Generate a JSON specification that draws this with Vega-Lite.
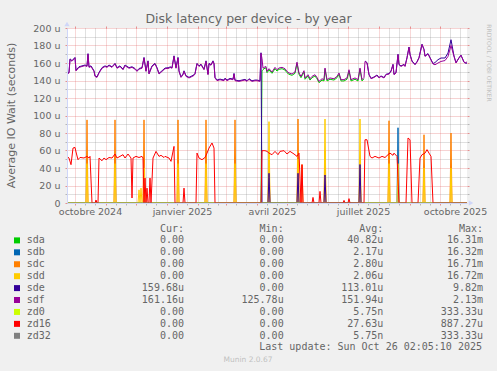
{
"$schema": "https://vega.github.io/schema/vega-lite/v6.json",
"width": 400, "height": 175,
"autosize": {"type": "none"},
"padding": {"left": 67, "top": 28, "right": 30, "bottom": 168},
"background": "#F0F0F0",
"config": {"view": {"stroke": null, "fill": "#FFFFFF"}},
"title": {"text": "Disk latency per device - by year", "font": "DejaVu Sans", "fontSize": 12.5, "fontWeight": "normal", "color": "#666666", "anchor": "middle", "frame": "group", "dx": -18.5, "offset": -4},
"datasets": {
"sda": [
{"t":"2024-09-23","s":"sda","v":0},{"t":"2025-04-05","s":"sda","v":0},{"t":"2025-04-06","s":"sda","v":151},
{"t":"2025-04-07","s":"sda","v":152.5},{"t":"2025-04-08","s":"sda","v":153.5},{"t":"2025-04-10","s":"sda","v":154.5},{"t":"2025-04-11","s":"sda","v":148.9},{"t":"2025-04-13","s":"sda","v":152},{"t":"2025-04-16","s":"sda","v":148.2},{"t":"2025-04-19","s":"sda","v":153.5},{"t":"2025-04-21","s":"sda","v":150.8},{"t":"2025-04-23","s":"sda","v":152.8},{"t":"2025-04-26","s":"sda","v":153.5},{"t":"2025-04-29","s":"sda","v":152},
{"t":"2025-05-01","s":"sda","v":148.9},{"t":"2025-05-03","s":"sda","v":147.1},{"t":"2025-05-06","s":"sda","v":145.9},{"t":"2025-05-09","s":"sda","v":148.2},{"t":"2025-05-11","s":"sda","v":159.5},{"t":"2025-05-13","s":"sda","v":147.1},{"t":"2025-05-15","s":"sda","v":143.2},{"t":"2025-05-18","s":"sda","v":149.7},{"t":"2025-05-19","s":"sda","v":141.4},{"t":"2025-05-22","s":"sda","v":145.1},{"t":"2025-05-24","s":"sda","v":140.5},{"t":"2025-05-26","s":"sda","v":143.2},{"t":"2025-05-29","s":"sda","v":145.1},{"t":"2025-05-31","s":"sda","v":142},
{"t":"2025-06-02","s":"sda","v":137.5},{"t":"2025-06-05","s":"sda","v":140.5},{"t":"2025-06-07","s":"sda","v":139.5},{"t":"2025-06-08","s":"sda","v":152.8},{"t":"2025-06-10","s":"sda","v":139.5},{"t":"2025-06-13","s":"sda","v":141.4},{"t":"2025-06-17","s":"sda","v":140.5},{"t":"2025-06-20","s":"sda","v":143.2},{"t":"2025-06-22","s":"sda","v":147.1},{"t":"2025-06-24","s":"sda","v":139.5},{"t":"2025-06-27","s":"sda","v":139.5},{"t":"2025-06-30","s":"sda","v":141.4},
{"t":"2025-07-02","s":"sda","v":150.8},{"t":"2025-07-04","s":"sda","v":139.5},{"t":"2025-07-08","s":"sda","v":141.4},{"t":"2025-07-11","s":"sda","v":139.5},{"t":"2025-07-13","s":"sda","v":152.8},{"t":"2025-07-15","s":"sda","v":139.5},{"t":"2025-07-17","s":"sda","v":142}
],
"sdb": [
{"t":"2024-09-23","s":"sdb","v":0},{"t":"2025-08-19","s":"sdb","v":0},{"t":"2025-08-20","s":"sdb","v":86},{"t":"2025-08-21","s":"sdb","v":0},{"t":"2025-10-28","s":"sdb","v":0}
],
"sdc": [
{"t":"2024-09-23","s":"sdc","v":0},
{"t":"2024-10-12","s":"sdc","v":0},{"t":"2024-10-13","s":"sdc","v":95},{"t":"2024-10-14","s":"sdc","v":0},
{"t":"2024-11-09","s":"sdc","v":0},{"t":"2024-11-10","s":"sdc","v":95},{"t":"2024-11-11","s":"sdc","v":0},
{"t":"2024-12-08","s":"sdc","v":0},{"t":"2024-12-09","s":"sdc","v":95},{"t":"2024-12-10","s":"sdc","v":0},
{"t":"2025-01-11","s":"sdc","v":0},{"t":"2025-01-12","s":"sdc","v":95},{"t":"2025-01-13","s":"sdc","v":0},
{"t":"2025-02-08","s":"sdc","v":0},{"t":"2025-02-09","s":"sdc","v":95},{"t":"2025-02-10","s":"sdc","v":0},
{"t":"2025-03-09","s":"sdc","v":0},{"t":"2025-03-10","s":"sdc","v":95},{"t":"2025-03-11","s":"sdc","v":0},
{"t":"2025-04-12","s":"sdc","v":0},{"t":"2025-04-13","s":"sdc","v":50},{"t":"2025-04-14","s":"sdc","v":0},
{"t":"2025-05-11","s":"sdc","v":0},{"t":"2025-05-12","s":"sdc","v":96},{"t":"2025-05-13","s":"sdc","v":0},
{"t":"2025-05-15","s":"sdc","v":0},{"t":"2025-05-16","s":"sdc","v":44},{"t":"2025-05-17","s":"sdc","v":0},
{"t":"2025-06-07","s":"sdc","v":0},{"t":"2025-06-08","s":"sdc","v":60},{"t":"2025-06-09","s":"sdc","v":0},
{"t":"2025-07-12","s":"sdc","v":0},{"t":"2025-07-13","s":"sdc","v":40},{"t":"2025-07-14","s":"sdc","v":0},
{"t":"2025-08-10","s":"sdc","v":0},{"t":"2025-08-11","s":"sdc","v":94},{"t":"2025-08-12","s":"sdc","v":0},
{"t":"2025-09-14","s":"sdc","v":0},{"t":"2025-09-15","s":"sdc","v":78},{"t":"2025-09-16","s":"sdc","v":0},
{"t":"2025-10-11","s":"sdc","v":0},{"t":"2025-10-12","s":"sdc","v":80},{"t":"2025-10-13","s":"sdc","v":0},
{"t":"2025-10-28","s":"sdc","v":0}
],
"sdd": [
{"t":"2024-09-23","s":"sdd","v":0},
{"t":"2024-10-12","s":"sdd","v":0},{"t":"2024-10-13","s":"sdd","v":45},{"t":"2024-10-14","s":"sdd","v":0},
{"t":"2024-11-09","s":"sdd","v":0},{"t":"2024-11-10","s":"sdd","v":45},{"t":"2024-11-11","s":"sdd","v":0},
{"t":"2024-12-03","s":"sdd","v":0},{"t":"2024-12-04","s":"sdd","v":15},{"t":"2024-12-05","s":"sdd","v":0},{"t":"2024-12-06","s":"sdd","v":17},{"t":"2024-12-07","s":"sdd","v":0},
{"t":"2024-12-08","s":"sdd","v":0},{"t":"2024-12-09","s":"sdd","v":40},{"t":"2024-12-10","s":"sdd","v":0},
{"t":"2025-01-11","s":"sdd","v":0},{"t":"2025-01-12","s":"sdd","v":45},{"t":"2025-01-13","s":"sdd","v":0},
{"t":"2025-02-08","s":"sdd","v":0},{"t":"2025-02-09","s":"sdd","v":45},{"t":"2025-02-10","s":"sdd","v":0},
{"t":"2025-03-09","s":"sdd","v":0},{"t":"2025-03-10","s":"sdd","v":45},{"t":"2025-03-11","s":"sdd","v":0},
{"t":"2025-04-12","s":"sdd","v":0},{"t":"2025-04-13","s":"sdd","v":93},{"t":"2025-04-14","s":"sdd","v":0},
{"t":"2025-05-11","s":"sdd","v":0},{"t":"2025-05-12","s":"sdd","v":50},{"t":"2025-05-13","s":"sdd","v":0},
{"t":"2025-06-07","s":"sdd","v":0},{"t":"2025-06-08","s":"sdd","v":96},{"t":"2025-06-09","s":"sdd","v":0},
{"t":"2025-07-12","s":"sdd","v":0},{"t":"2025-07-13","s":"sdd","v":96},{"t":"2025-07-14","s":"sdd","v":0},
{"t":"2025-08-10","s":"sdd","v":0},{"t":"2025-08-11","s":"sdd","v":45},{"t":"2025-08-12","s":"sdd","v":0},
{"t":"2025-08-19","s":"sdd","v":0},{"t":"2025-08-20","s":"sdd","v":45},{"t":"2025-08-21","s":"sdd","v":0},
{"t":"2025-09-14","s":"sdd","v":0},{"t":"2025-09-15","s":"sdd","v":40},{"t":"2025-09-16","s":"sdd","v":0},
{"t":"2025-10-11","s":"sdd","v":0},{"t":"2025-10-12","s":"sdd","v":40},{"t":"2025-10-13","s":"sdd","v":0},
{"t":"2025-10-28","s":"sdd","v":0}
],
"sde": [
{"t":"2024-09-23","s":"sde","g":"a","v":148.2},{"t":"2024-09-25","s":"sde","g":"a","v":149.2},{"t":"2024-09-26","s":"sde","g":"a","v":164.7},{"t":"2024-09-28","s":"sde","g":"a","v":162.7},{"t":"2024-10-01","s":"sde","g":"a","v":166.4},{"t":"2024-10-02","s":"sde","g":"a","v":151.7},{"t":"2024-10-05","s":"sde","g":"a","v":155.7},{"t":"2024-10-08","s":"sde","g":"a","v":156.7},{"t":"2024-10-11","s":"sde","g":"a","v":157.7},{"t":"2024-10-13","s":"sde","g":"a","v":156.7},{"t":"2024-10-14","s":"sde","g":"a","v":170.7},{"t":"2024-10-15","s":"sde","g":"a","v":155.7},{"t":"2024-10-17","s":"sde","g":"a","v":156.7},{"t":"2024-10-20","s":"sde","g":"a","v":151.1},{"t":"2024-10-21","s":"sde","g":"a","v":145.4},{"t":"2024-10-23","s":"sde","g":"a","v":144.2},{"t":"2024-10-25","s":"sde","g":"a","v":149.2},{"t":"2024-10-28","s":"sde","g":"a","v":154.7},{"t":"2024-10-31","s":"sde","g":"a","v":156.7},
{"t":"2024-11-02","s":"sde","g":"a","v":155.7},{"t":"2024-11-04","s":"sde","g":"a","v":157.7},{"t":"2024-11-07","s":"sde","g":"a","v":155.7},{"t":"2024-11-10","s":"sde","g":"a","v":159.6},{"t":"2024-11-12","s":"sde","g":"a","v":154.7},{"t":"2024-11-15","s":"sde","g":"a","v":156.7},{"t":"2024-11-18","s":"sde","g":"a","v":153},{"t":"2024-11-20","s":"sde","g":"a","v":157.7},{"t":"2024-11-24","s":"sde","g":"a","v":154.7},{"t":"2024-11-27","s":"sde","g":"a","v":155.7},{"t":"2024-11-30","s":"sde","g":"a","v":153.7},
{"t":"2024-12-02","s":"sde","g":"a","v":151.1},{"t":"2024-12-04","s":"sde","g":"a","v":153.7},{"t":"2024-12-07","s":"sde","g":"a","v":154.7},{"t":"2024-12-09","s":"sde","g":"a","v":166.4},{"t":"2024-12-11","s":"sde","g":"a","v":151.1},{"t":"2024-12-13","s":"sde","g":"a","v":162.5},{"t":"2024-12-14","s":"sde","g":"a","v":148.1},{"t":"2024-12-17","s":"sde","g":"a","v":156.7},{"t":"2024-12-20","s":"sde","g":"a","v":159.6},{"t":"2024-12-22","s":"sde","g":"a","v":154.7},{"t":"2024-12-24","s":"sde","g":"a","v":148.1},{"t":"2024-12-27","s":"sde","g":"a","v":151.1},{"t":"2024-12-30","s":"sde","g":"a","v":154.2},
{"t":"2025-01-03","s":"sde","g":"a","v":154.7},{"t":"2025-01-04","s":"sde","g":"a","v":155.7},{"t":"2025-01-06","s":"sde","g":"a","v":154.7},{"t":"2025-01-08","s":"sde","g":"a","v":168.2},{"t":"2025-01-10","s":"sde","g":"a","v":154.7},{"t":"2025-01-12","s":"sde","g":"a","v":166.4},{"t":"2025-01-13","s":"sde","g":"a","v":151.1},{"t":"2025-01-15","s":"sde","g":"a","v":144.2},{"t":"2025-01-17","s":"sde","g":"a","v":147.3},{"t":"2025-01-18","s":"sde","g":"a","v":151.1},{"t":"2025-01-20","s":"sde","g":"a","v":145.4},{"t":"2025-01-23","s":"sde","g":"a","v":143.6},{"t":"2025-01-25","s":"sde","g":"a","v":144.7},{"t":"2025-01-28","s":"sde","g":"a","v":146.5},{"t":"2025-01-29","s":"sde","g":"a","v":148.1},{"t":"2025-01-31","s":"sde","g":"a","v":159.6},
{"t":"2025-02-02","s":"sde","g":"a","v":156.7},{"t":"2025-02-04","s":"sde","g":"a","v":158.7},{"t":"2025-02-07","s":"sde","g":"a","v":153},{"t":"2025-02-09","s":"sde","g":"a","v":162.5},{"t":"2025-02-11","s":"sde","g":"a","v":147.3},{"t":"2025-02-12","s":"sde","g":"a","v":159.6},{"t":"2025-02-14","s":"sde","g":"a","v":158.1},{"t":"2025-02-16","s":"sde","g":"a","v":162.5},{"t":"2025-02-17","s":"sde","g":"a","v":159.6},{"t":"2025-02-18","s":"sde","g":"a","v":143.6},{"t":"2025-02-20","s":"sde","g":"a","v":140.5},{"t":"2025-02-23","s":"sde","g":"a","v":141.6},{"t":"2025-02-27","s":"sde","g":"a","v":140.5},{"t":"2025-02-28","s":"sde","g":"a","v":142.7},
{"t":"2025-03-02","s":"sde","g":"a","v":140.5},{"t":"2025-03-05","s":"sde","g":"a","v":142.4},{"t":"2025-03-08","s":"sde","g":"a","v":141.6},{"t":"2025-03-09","s":"sde","g":"a","v":148.1},{"t":"2025-03-10","s":"sde","g":"a","v":140.5},{"t":"2025-03-14","s":"sde","g":"a","v":139.7},{"t":"2025-03-17","s":"sde","g":"a","v":140.5},{"t":"2025-03-20","s":"sde","g":"a","v":141.3},{"t":"2025-03-22","s":"sde","g":"a","v":139.7},{"t":"2025-03-24","s":"sde","g":"a","v":142},{"t":"2025-03-27","s":"sde","g":"a","v":139.7},{"t":"2025-03-30","s":"sde","g":"a","v":140.5},
{"t":"2025-04-01","s":"sde","g":"a","v":140.5},{"t":"2025-04-04","s":"sde","g":"a","v":139.7},{"t":"2025-04-05","s":"sde","g":"a","v":171.7},{"t":"2025-04-06","s":"sde","g":"a","v":0},
{"t":"2025-04-12","s":"sde","g":"a","v":0},{"t":"2025-04-13","s":"sde","g":"a","v":34},{"t":"2025-04-14","s":"sde","g":"a","v":0},
{"t":"2025-05-11","s":"sde","g":"a","v":0},{"t":"2025-05-12","s":"sde","g":"a","v":34},{"t":"2025-05-13","s":"sde","g":"a","v":0},
{"t":"2025-06-07","s":"sde","g":"a","v":0},{"t":"2025-06-08","s":"sde","g":"a","v":32},{"t":"2025-06-09","s":"sde","g":"a","v":0},
{"t":"2025-07-12","s":"sde","g":"a","v":0},{"t":"2025-07-13","s":"sde","g":"a","v":44},{"t":"2025-07-14","s":"sde","g":"a","v":0},
{"t":"2025-07-17","s":"sde","g":"a","v":0},
{"t":"2025-07-18","s":"sde","g":"b","v":162.3},{"t":"2025-07-20","s":"sde","g":"b","v":160.5},{"t":"2025-07-22","s":"sde","g":"b","v":147.1},{"t":"2025-07-24","s":"sde","g":"b","v":142.5},{"t":"2025-07-27","s":"sde","g":"b","v":144},{"t":"2025-07-30","s":"sde","g":"b","v":146.3},
{"t":"2025-08-01","s":"sde","g":"b","v":143.4},{"t":"2025-08-03","s":"sde","g":"b","v":145.2},{"t":"2025-08-06","s":"sde","g":"b","v":143.4},{"t":"2025-08-08","s":"sde","g":"b","v":147.1},{"t":"2025-08-11","s":"sde","g":"b","v":147.9},{"t":"2025-08-13","s":"sde","g":"b","v":150.9},{"t":"2025-08-15","s":"sde","g":"b","v":158.5},{"t":"2025-08-16","s":"sde","g":"b","v":147.1},{"t":"2025-08-18","s":"sde","g":"b","v":149.1},{"t":"2025-08-20","s":"sde","g":"b","v":170},{"t":"2025-08-21","s":"sde","g":"b","v":158.5},{"t":"2025-08-23","s":"sde","g":"b","v":156.6},{"t":"2025-08-26","s":"sde","g":"b","v":158.5},{"t":"2025-08-27","s":"sde","g":"b","v":156.5},{"t":"2025-08-29","s":"sde","g":"b","v":166.2},{"t":"2025-08-31","s":"sde","g":"b","v":178.3},
{"t":"2025-09-01","s":"sde","g":"b","v":170},{"t":"2025-09-03","s":"sde","g":"b","v":162.3},{"t":"2025-09-06","s":"sde","g":"b","v":158.5},{"t":"2025-09-08","s":"sde","g":"b","v":161.5},{"t":"2025-09-10","s":"sde","g":"b","v":166.2},{"t":"2025-09-13","s":"sde","g":"b","v":181.5},{"t":"2025-09-15","s":"sde","g":"b","v":175.7},{"t":"2025-09-16","s":"sde","g":"b","v":168},{"t":"2025-09-19","s":"sde","g":"b","v":170.8},{"t":"2025-09-21","s":"sde","g":"b","v":166.2},{"t":"2025-09-24","s":"sde","g":"b","v":159.4},{"t":"2025-09-26","s":"sde","g":"b","v":160.5},{"t":"2025-09-29","s":"sde","g":"b","v":163.8},
{"t":"2025-10-02","s":"sde","g":"b","v":165.7},{"t":"2025-10-06","s":"sde","g":"b","v":165.7},{"t":"2025-10-09","s":"sde","g":"b","v":171.4},{"t":"2025-10-12","s":"sde","g":"b","v":186.6},{"t":"2025-10-15","s":"sde","g":"b","v":168},{"t":"2025-10-17","s":"sde","g":"b","v":160.5},{"t":"2025-10-20","s":"sde","g":"b","v":166},{"t":"2025-10-22","s":"sde","g":"b","v":169},{"t":"2025-10-25","s":"sde","g":"b","v":161},{"t":"2025-10-26","s":"sde","g":"b","v":160},{"t":"2025-10-28","s":"sde","g":"b","v":159.7}
],
"sdf": [
{"t":"2024-09-23","s":"sdf","v":147.5},{"t":"2024-09-25","s":"sdf","v":148.5},{"t":"2024-09-26","s":"sdf","v":164},{"t":"2024-09-28","s":"sdf","v":162},{"t":"2024-10-01","s":"sdf","v":165.7},{"t":"2024-10-02","s":"sdf","v":151},{"t":"2024-10-05","s":"sdf","v":155},{"t":"2024-10-08","s":"sdf","v":156},{"t":"2024-10-11","s":"sdf","v":157},{"t":"2024-10-13","s":"sdf","v":156},{"t":"2024-10-14","s":"sdf","v":170},{"t":"2024-10-15","s":"sdf","v":155},{"t":"2024-10-17","s":"sdf","v":156},{"t":"2024-10-20","s":"sdf","v":150.4},{"t":"2024-10-21","s":"sdf","v":144.7},{"t":"2024-10-23","s":"sdf","v":143.5},{"t":"2024-10-25","s":"sdf","v":148.5},{"t":"2024-10-28","s":"sdf","v":154},{"t":"2024-10-31","s":"sdf","v":156},
{"t":"2024-11-02","s":"sdf","v":155},{"t":"2024-11-04","s":"sdf","v":157},{"t":"2024-11-07","s":"sdf","v":155},{"t":"2024-11-10","s":"sdf","v":158.9},{"t":"2024-11-12","s":"sdf","v":154},{"t":"2024-11-15","s":"sdf","v":156},{"t":"2024-11-18","s":"sdf","v":152.3},{"t":"2024-11-20","s":"sdf","v":157},{"t":"2024-11-24","s":"sdf","v":154},{"t":"2024-11-27","s":"sdf","v":155},{"t":"2024-11-30","s":"sdf","v":153},
{"t":"2024-12-02","s":"sdf","v":150.4},{"t":"2024-12-04","s":"sdf","v":153},{"t":"2024-12-07","s":"sdf","v":154},{"t":"2024-12-09","s":"sdf","v":165.7},{"t":"2024-12-11","s":"sdf","v":150.4},{"t":"2024-12-13","s":"sdf","v":161.8},{"t":"2024-12-14","s":"sdf","v":147.4},{"t":"2024-12-17","s":"sdf","v":156},{"t":"2024-12-20","s":"sdf","v":158.9},{"t":"2024-12-22","s":"sdf","v":154},{"t":"2024-12-24","s":"sdf","v":147.4},{"t":"2024-12-27","s":"sdf","v":150.4},{"t":"2024-12-30","s":"sdf","v":153.5},
{"t":"2025-01-03","s":"sdf","v":154},{"t":"2025-01-04","s":"sdf","v":155},{"t":"2025-01-06","s":"sdf","v":154},{"t":"2025-01-08","s":"sdf","v":167.5},{"t":"2025-01-10","s":"sdf","v":154},{"t":"2025-01-12","s":"sdf","v":165.7},{"t":"2025-01-13","s":"sdf","v":150.4},{"t":"2025-01-15","s":"sdf","v":143.5},{"t":"2025-01-17","s":"sdf","v":146.6},{"t":"2025-01-18","s":"sdf","v":150.4},{"t":"2025-01-20","s":"sdf","v":144.7},{"t":"2025-01-23","s":"sdf","v":142.9},{"t":"2025-01-25","s":"sdf","v":144},{"t":"2025-01-28","s":"sdf","v":145.8},{"t":"2025-01-29","s":"sdf","v":147.4},{"t":"2025-01-31","s":"sdf","v":158.9},
{"t":"2025-02-02","s":"sdf","v":156},{"t":"2025-02-04","s":"sdf","v":158},{"t":"2025-02-07","s":"sdf","v":152.3},{"t":"2025-02-09","s":"sdf","v":161.8},{"t":"2025-02-11","s":"sdf","v":146.6},{"t":"2025-02-12","s":"sdf","v":158.9},{"t":"2025-02-14","s":"sdf","v":157.4},{"t":"2025-02-16","s":"sdf","v":161.8},{"t":"2025-02-17","s":"sdf","v":158.9},{"t":"2025-02-18","s":"sdf","v":142.9},{"t":"2025-02-20","s":"sdf","v":139.8},{"t":"2025-02-23","s":"sdf","v":140.9},{"t":"2025-02-27","s":"sdf","v":139.8},{"t":"2025-02-28","s":"sdf","v":142},
{"t":"2025-03-02","s":"sdf","v":139.8},{"t":"2025-03-05","s":"sdf","v":141.7},{"t":"2025-03-08","s":"sdf","v":140.9},{"t":"2025-03-09","s":"sdf","v":147.4},{"t":"2025-03-10","s":"sdf","v":139.8},{"t":"2025-03-14","s":"sdf","v":139},{"t":"2025-03-17","s":"sdf","v":139.8},{"t":"2025-03-20","s":"sdf","v":140.6},{"t":"2025-03-22","s":"sdf","v":139},{"t":"2025-03-24","s":"sdf","v":141.3},{"t":"2025-03-27","s":"sdf","v":139},{"t":"2025-03-30","s":"sdf","v":139.8},
{"t":"2025-04-01","s":"sdf","v":139.8},{"t":"2025-04-04","s":"sdf","v":139},{"t":"2025-04-05","s":"sdf","v":171},{"t":"2025-04-06","s":"sdf","v":165},{"t":"2025-04-07","s":"sdf","v":154},{"t":"2025-04-08","s":"sdf","v":155},{"t":"2025-04-10","s":"sdf","v":156},{"t":"2025-04-11","s":"sdf","v":150.4},{"t":"2025-04-13","s":"sdf","v":153.5},{"t":"2025-04-16","s":"sdf","v":149.7},{"t":"2025-04-19","s":"sdf","v":155},{"t":"2025-04-21","s":"sdf","v":152.3},{"t":"2025-04-23","s":"sdf","v":154.3},{"t":"2025-04-26","s":"sdf","v":155},{"t":"2025-04-29","s":"sdf","v":153.5},
{"t":"2025-05-01","s":"sdf","v":150.4},{"t":"2025-05-03","s":"sdf","v":148.6},{"t":"2025-05-06","s":"sdf","v":147.4},{"t":"2025-05-09","s":"sdf","v":149.7},{"t":"2025-05-11","s":"sdf","v":161},{"t":"2025-05-13","s":"sdf","v":148.6},{"t":"2025-05-15","s":"sdf","v":144.7},{"t":"2025-05-18","s":"sdf","v":151.2},{"t":"2025-05-19","s":"sdf","v":142.9},{"t":"2025-05-22","s":"sdf","v":146.6},{"t":"2025-05-24","s":"sdf","v":142},{"t":"2025-05-26","s":"sdf","v":144.7},{"t":"2025-05-29","s":"sdf","v":146.6},{"t":"2025-05-31","s":"sdf","v":143.5},
{"t":"2025-06-02","s":"sdf","v":139},{"t":"2025-06-05","s":"sdf","v":142},{"t":"2025-06-07","s":"sdf","v":141},{"t":"2025-06-08","s":"sdf","v":154.3},{"t":"2025-06-10","s":"sdf","v":141},{"t":"2025-06-13","s":"sdf","v":142.9},{"t":"2025-06-17","s":"sdf","v":142},{"t":"2025-06-20","s":"sdf","v":144.7},{"t":"2025-06-22","s":"sdf","v":148.6},{"t":"2025-06-24","s":"sdf","v":141},{"t":"2025-06-27","s":"sdf","v":141},{"t":"2025-06-30","s":"sdf","v":142.9},
{"t":"2025-07-02","s":"sdf","v":152.3},{"t":"2025-07-04","s":"sdf","v":141},{"t":"2025-07-08","s":"sdf","v":142.9},{"t":"2025-07-11","s":"sdf","v":141},{"t":"2025-07-13","s":"sdf","v":154.3},{"t":"2025-07-15","s":"sdf","v":141},{"t":"2025-07-17","s":"sdf","v":143.5},{"t":"2025-07-18","s":"sdf","v":161.8},{"t":"2025-07-20","s":"sdf","v":160},{"t":"2025-07-22","s":"sdf","v":146.6},{"t":"2025-07-24","s":"sdf","v":142},{"t":"2025-07-27","s":"sdf","v":143.5},{"t":"2025-07-30","s":"sdf","v":145.8},
{"t":"2025-08-01","s":"sdf","v":142.9},{"t":"2025-08-03","s":"sdf","v":144.7},{"t":"2025-08-06","s":"sdf","v":142.9},{"t":"2025-08-08","s":"sdf","v":146.6},{"t":"2025-08-11","s":"sdf","v":147.4},{"t":"2025-08-13","s":"sdf","v":150.4},{"t":"2025-08-15","s":"sdf","v":158},{"t":"2025-08-16","s":"sdf","v":146.6},{"t":"2025-08-18","s":"sdf","v":148.6},{"t":"2025-08-20","s":"sdf","v":169.5},{"t":"2025-08-21","s":"sdf","v":158},{"t":"2025-08-23","s":"sdf","v":156.1},{"t":"2025-08-26","s":"sdf","v":158},{"t":"2025-08-27","s":"sdf","v":156},{"t":"2025-08-29","s":"sdf","v":165.7},{"t":"2025-08-31","s":"sdf","v":177.8},
{"t":"2025-09-01","s":"sdf","v":169.5},{"t":"2025-09-03","s":"sdf","v":161.8},{"t":"2025-09-06","s":"sdf","v":158},{"t":"2025-09-08","s":"sdf","v":161},{"t":"2025-09-10","s":"sdf","v":165.7},{"t":"2025-09-13","s":"sdf","v":181},{"t":"2025-09-15","s":"sdf","v":175.2},{"t":"2025-09-16","s":"sdf","v":167.5},{"t":"2025-09-19","s":"sdf","v":170.3},{"t":"2025-09-21","s":"sdf","v":165.7},{"t":"2025-09-24","s":"sdf","v":158.9},{"t":"2025-09-26","s":"sdf","v":158},{"t":"2025-09-29","s":"sdf","v":160},
{"t":"2025-10-02","s":"sdf","v":161.8},{"t":"2025-10-06","s":"sdf","v":162.8},{"t":"2025-10-09","s":"sdf","v":167.5},{"t":"2025-10-12","s":"sdf","v":180},{"t":"2025-10-15","s":"sdf","v":167.5},{"t":"2025-10-17","s":"sdf","v":160},{"t":"2025-10-20","s":"sdf","v":165.7},{"t":"2025-10-22","s":"sdf","v":168.7},{"t":"2025-10-25","s":"sdf","v":161},{"t":"2025-10-26","s":"sdf","v":160},{"t":"2025-10-28","s":"sdf","v":161.2}
],
"zd0": [{"t":"2024-09-23","s":"zd0","v":0},{"t":"2025-10-28","s":"zd0","v":0}],
"zd16": [
{"t":"2024-09-23","s":"zd16","v":53.3},{"t":"2024-09-25","s":"zd16","v":51.4},{"t":"2024-09-27","s":"zd16","v":43.8},{"t":"2024-09-29","s":"zd16","v":62.8},{"t":"2024-10-01","s":"zd16","v":63.5},{"t":"2024-10-02","s":"zd16","v":58.3},{"t":"2024-10-04","s":"zd16","v":49.5},{"t":"2024-10-06","s":"zd16","v":52.1},{"t":"2024-10-10","s":"zd16","v":51.4},{"t":"2024-10-13","s":"zd16","v":53.3},{"t":"2024-10-15","s":"zd16","v":51.4},{"t":"2024-10-16","s":"zd16","v":53.3},{"t":"2024-10-18","s":"zd16","v":0},{"t":"2024-10-21","s":"zd16","v":0},{"t":"2024-10-22","s":"zd16","v":3.4},{"t":"2024-10-23","s":"zd16","v":0},{"t":"2024-10-24","s":"zd16","v":0},{"t":"2024-10-25","s":"zd16","v":51.4},{"t":"2024-10-28","s":"zd16","v":48.3},{"t":"2024-10-30","s":"zd16","v":51.4},
{"t":"2024-11-01","s":"zd16","v":49.5},{"t":"2024-11-04","s":"zd16","v":52},{"t":"2024-11-07","s":"zd16","v":51.4},{"t":"2024-11-10","s":"zd16","v":56},{"t":"2024-11-12","s":"zd16","v":51.4},{"t":"2024-11-15","s":"zd16","v":53.3},{"t":"2024-11-18","s":"zd16","v":55.2},{"t":"2024-11-20","s":"zd16","v":51.4},{"t":"2024-11-23","s":"zd16","v":56},{"t":"2024-11-26","s":"zd16","v":51.4},{"t":"2024-11-27","s":"zd16","v":5.7},{"t":"2024-11-28","s":"zd16","v":51.4},
{"t":"2024-12-01","s":"zd16","v":53.3},{"t":"2024-12-04","s":"zd16","v":52},{"t":"2024-12-07","s":"zd16","v":53.3},{"t":"2024-12-08","s":"zd16","v":51.4},{"t":"2024-12-09","s":"zd16","v":0},{"t":"2024-12-10","s":"zd16","v":28.5},{"t":"2024-12-11","s":"zd16","v":0},{"t":"2024-12-12","s":"zd16","v":17},{"t":"2024-12-13","s":"zd16","v":0},{"t":"2024-12-14","s":"zd16","v":0},{"t":"2024-12-15","s":"zd16","v":28.5},{"t":"2024-12-16","s":"zd16","v":0},{"t":"2024-12-18","s":"zd16","v":51.4},{"t":"2024-12-21","s":"zd16","v":59},{"t":"2024-12-24","s":"zd16","v":53.3},{"t":"2024-12-26","s":"zd16","v":54.5},{"t":"2024-12-29","s":"zd16","v":52},{"t":"2024-12-30","s":"zd16","v":53.3},
{"t":"2025-01-03","s":"zd16","v":51.4},{"t":"2025-01-05","s":"zd16","v":47.6},{"t":"2025-01-08","s":"zd16","v":64.7},{"t":"2025-01-09","s":"zd16","v":0},{"t":"2025-01-17","s":"zd16","v":0},{"t":"2025-01-18","s":"zd16","v":17},{"t":"2025-01-19","s":"zd16","v":0},{"t":"2025-01-30","s":"zd16","v":0},{"t":"2025-01-31","s":"zd16","v":57.1},
{"t":"2025-02-02","s":"zd16","v":51.4},{"t":"2025-02-05","s":"zd16","v":49.5},{"t":"2025-02-08","s":"zd16","v":52},{"t":"2025-02-10","s":"zd16","v":57},{"t":"2025-02-12","s":"zd16","v":62.8},{"t":"2025-02-15","s":"zd16","v":68.6},{"t":"2025-02-17","s":"zd16","v":62.8},{"t":"2025-02-18","s":"zd16","v":0},
{"t":"2025-04-05","s":"zd16","v":0},{"t":"2025-04-06","s":"zd16","v":59.8},{"t":"2025-04-09","s":"zd16","v":59.8},{"t":"2025-04-11","s":"zd16","v":59},{"t":"2025-04-13","s":"zd16","v":57},{"t":"2025-04-16","s":"zd16","v":55.2},{"t":"2025-04-19","s":"zd16","v":59},{"t":"2025-04-22","s":"zd16","v":55.2},{"t":"2025-04-24","s":"zd16","v":59},{"t":"2025-04-28","s":"zd16","v":59.8},
{"t":"2025-05-01","s":"zd16","v":56},{"t":"2025-05-04","s":"zd16","v":59},{"t":"2025-05-08","s":"zd16","v":56},{"t":"2025-05-11","s":"zd16","v":53.3},{"t":"2025-05-13","s":"zd16","v":57},{"t":"2025-05-15","s":"zd16","v":0},{"t":"2025-05-16","s":"zd16","v":43.8},{"t":"2025-05-17","s":"zd16","v":0},{"t":"2025-05-26","s":"zd16","v":0},{"t":"2025-05-27","s":"zd16","v":6.4},{"t":"2025-05-28","s":"zd16","v":0},
{"t":"2025-06-02","s":"zd16","v":0},{"t":"2025-06-03","s":"zd16","v":13.3},{"t":"2025-06-04","s":"zd16","v":0},{"t":"2025-06-26","s":"zd16","v":0},{"t":"2025-06-27","s":"zd16","v":3},{"t":"2025-06-28","s":"zd16","v":0},{"t":"2025-07-01","s":"zd16","v":0},{"t":"2025-07-02","s":"zd16","v":5},{"t":"2025-07-03","s":"zd16","v":0},
{"t":"2025-07-17","s":"zd16","v":0},{"t":"2025-07-18","s":"zd16","v":72.3},{"t":"2025-07-20","s":"zd16","v":72.3},{"t":"2025-07-23","s":"zd16","v":53.3},{"t":"2025-07-25","s":"zd16","v":51.4},{"t":"2025-07-28","s":"zd16","v":53.3},
{"t":"2025-08-01","s":"zd16","v":51.4},{"t":"2025-08-04","s":"zd16","v":53.3},{"t":"2025-08-07","s":"zd16","v":52},{"t":"2025-08-10","s":"zd16","v":55.2},{"t":"2025-08-12","s":"zd16","v":57},{"t":"2025-08-15","s":"zd16","v":54.5},{"t":"2025-08-16","s":"zd16","v":57},{"t":"2025-08-19","s":"zd16","v":53.3},{"t":"2025-08-21","s":"zd16","v":0},{"t":"2025-08-28","s":"zd16","v":0},{"t":"2025-08-30","s":"zd16","v":74.3},
{"t":"2025-09-01","s":"zd16","v":72.3},{"t":"2025-09-03","s":"zd16","v":0},{"t":"2025-09-09","s":"zd16","v":0},{"t":"2025-09-11","s":"zd16","v":51.4},{"t":"2025-09-13","s":"zd16","v":55.2},{"t":"2025-09-16","s":"zd16","v":57},{"t":"2025-09-18","s":"zd16","v":61},{"t":"2025-09-20","s":"zd16","v":57},{"t":"2025-09-22","s":"zd16","v":53.3},{"t":"2025-09-24","s":"zd16","v":0},{"t":"2025-10-28","s":"zd16","v":0}
],
"zd32": [{"t":"2024-09-23","s":"zd32","v":0},{"t":"2025-10-28","s":"zd32","v":0}],
"legv": [
{"s":"hdr","c":"Cur","txt":"Cur:  "},{"s":"hdr","c":"Min","txt":"Min:  "},{"s":"hdr","c":"Avg","txt":"Avg:  "},{"s":"hdr","c":"Max","txt":"Max:  "},
{"s":"sda","c":"Cur","txt":"0.00 "},{"s":"sda","c":"Min","txt":"0.00 "},{"s":"sda","c":"Avg","txt":"40.82u"},{"s":"sda","c":"Max","txt":"16.31m"},
{"s":"sdb","c":"Cur","txt":"0.00 "},{"s":"sdb","c":"Min","txt":"0.00 "},{"s":"sdb","c":"Avg","txt":"2.17u"},{"s":"sdb","c":"Max","txt":"16.32m"},
{"s":"sdc","c":"Cur","txt":"0.00 "},{"s":"sdc","c":"Min","txt":"0.00 "},{"s":"sdc","c":"Avg","txt":"2.80u"},{"s":"sdc","c":"Max","txt":"16.71m"},
{"s":"sdd","c":"Cur","txt":"0.00 "},{"s":"sdd","c":"Min","txt":"0.00 "},{"s":"sdd","c":"Avg","txt":"2.06u"},{"s":"sdd","c":"Max","txt":"16.72m"},
{"s":"sde","c":"Cur","txt":"159.68u"},{"s":"sde","c":"Min","txt":"0.00 "},{"s":"sde","c":"Avg","txt":"113.01u"},{"s":"sde","c":"Max","txt":"9.82m"},
{"s":"sdf","c":"Cur","txt":"161.16u"},{"s":"sdf","c":"Min","txt":"125.78u"},{"s":"sdf","c":"Avg","txt":"151.94u"},{"s":"sdf","c":"Max","txt":"2.13m"},
{"s":"zd0","c":"Cur","txt":"0.00 "},{"s":"zd0","c":"Min","txt":"0.00 "},{"s":"zd0","c":"Avg","txt":"5.75n"},{"s":"zd0","c":"Max","txt":"333.33u"},
{"s":"zd16","c":"Cur","txt":"0.00 "},{"s":"zd16","c":"Min","txt":"0.00 "},{"s":"zd16","c":"Avg","txt":"27.63u"},{"s":"zd16","c":"Max","txt":"887.27u"},
{"s":"zd32","c":"Cur","txt":"0.00 "},{"s":"zd32","c":"Min","txt":"0.00 "},{"s":"zd32","c":"Avg","txt":"5.75n"},{"s":"zd32","c":"Max","txt":"333.33u"}
],
"legn": [
{"s":"sda","c":"name"},{"s":"sdb","c":"name"},{"s":"sdc","c":"name"},{"s":"sdd","c":"name"},{"s":"sde","c":"name"},{"s":"sdf","c":"name"},{"s":"zd0","c":"name"},{"s":"zd16","c":"name"},{"s":"zd32","c":"name"}
],
"misc": [
{"k":"upd","txt":"Last update: Sun Oct 26 02:05:10 2025"},
{"k":"munin","txt":"Munin 2.0.67"},
{"k":"rrd","txt":"RRDTOOL / TOBI OETIKER"}
],
"arrows": [{"a":"up"},{"a":"right"}]
},
"layer": [
{"data":{"name":"sda"},"mark":{"type":"line","strokeWidth":1},
 "encoding":{
  "x":{"field":"t","type":"temporal","scale":{"type":"utc","domain":[{"year":2024,"month":9,"date":23,"utc":true},{"year":2025,"month":10,"date":28,"utc":true}],"nice":false},
   "axis":{"orient":"bottom","grid":true,"gridColor":"#8F8F8F","gridOpacity":0.55,"gridDash":[1,1],"labels":false,"ticks":true,"tickSize":2,"tickColor":"#8F8F8F","tickOpacity":0.6,"domain":false,"title":null,
    "values":[{"year":2024,"month":10,"date":11,"utc":true},{"year":2024,"month":10,"date":21,"utc":true},{"year":2024,"month":11,"date":11,"utc":true},{"year":2024,"month":11,"date":21,"utc":true},{"year":2024,"month":12,"date":11,"utc":true},{"year":2024,"month":12,"date":21,"utc":true},{"year":2025,"month":1,"date":11,"utc":true},{"year":2025,"month":1,"date":21,"utc":true},{"year":2025,"month":2,"date":11,"utc":true},{"year":2025,"month":2,"date":21,"utc":true},{"year":2025,"month":3,"date":11,"utc":true},{"year":2025,"month":3,"date":21,"utc":true},{"year":2025,"month":4,"date":11,"utc":true},{"year":2025,"month":4,"date":21,"utc":true},{"year":2025,"month":5,"date":11,"utc":true},{"year":2025,"month":5,"date":21,"utc":true},{"year":2025,"month":6,"date":11,"utc":true},{"year":2025,"month":6,"date":21,"utc":true},{"year":2025,"month":7,"date":11,"utc":true},{"year":2025,"month":7,"date":21,"utc":true},{"year":2025,"month":8,"date":11,"utc":true},{"year":2025,"month":8,"date":21,"utc":true},{"year":2025,"month":9,"date":11,"utc":true},{"year":2025,"month":9,"date":21,"utc":true},{"year":2025,"month":10,"date":11,"utc":true},{"year":2025,"month":10,"date":21,"utc":true}]}},
  "y":{"field":"v","type":"quantitative","scale":{"domain":[0,200],"nice":false},
   "axis":{"orient":"left","grid":true,"gridColor":"#8F8F8F","gridOpacity":0.55,"gridDash":[1,1],"labels":false,"ticks":true,"tickSize":2,"tickColor":"#8F8F8F","tickOpacity":0.6,"domain":false,"title":null,"values":[10,30,50,70,90,110,130,150,170,190]}},
  "color":{"field":"s","type":"nominal","scale":{"domain":["sda","sdb","sdc","sdd","sde","sdf","zd0","zd16","zd32"],"range":["#00CC00","#0066B3","#FF8000","#FFCC00","#330099","#990099","#CCFF00","#FF0000","#808080"]},"legend":null}
 }},
{"data":{"name":"sdb"},"mark":{"type":"line","strokeWidth":1},
 "encoding":{
  "x":{"field":"t","type":"temporal","scale":{"type":"utc","domain":[{"year":2024,"month":9,"date":23,"utc":true},{"year":2025,"month":10,"date":28,"utc":true}],"nice":false},
   "axis":{"orient":"bottom","grid":true,"gridColor":"#DE4F4F","gridOpacity":0.45,"gridDash":[1,1],"labels":false,"ticks":true,"tickSize":2,"tickColor":"#DE4F4F","tickOpacity":0.6,"domain":false,"title":null,
    "values":[{"year":2024,"month":10,"date":1,"utc":true},{"year":2024,"month":11,"date":1,"utc":true},{"year":2024,"month":12,"date":1,"utc":true},{"year":2025,"month":1,"date":1,"utc":true},{"year":2025,"month":2,"date":1,"utc":true},{"year":2025,"month":3,"date":1,"utc":true},{"year":2025,"month":4,"date":1,"utc":true},{"year":2025,"month":5,"date":1,"utc":true},{"year":2025,"month":6,"date":1,"utc":true},{"year":2025,"month":7,"date":1,"utc":true},{"year":2025,"month":8,"date":1,"utc":true},{"year":2025,"month":9,"date":1,"utc":true},{"year":2025,"month":10,"date":1,"utc":true}]}},
  "y":{"field":"v","type":"quantitative","scale":{"domain":[0,200],"nice":false},
   "axis":{"orient":"left","grid":true,"gridColor":"#DE4F4F","gridOpacity":0.5,"gridDash":[1,1],"ticks":true,"tickSize":2,"tickColor":"#DE4F4F","tickOpacity":0.6,"domain":false,"values":[0,20,40,60,80,100,120,140,160,180,200],
    "labelExpr":"datum.value == 0 ? '0' : datum.value + ' u'","labelFont":"DejaVu Sans","labelFontSize":9.5,"labelColor":"#666666","labelPadding":5,
    "title":"Average IO Wait (seconds)","titleFont":"DejaVu Sans","titleFontSize":11,"titleFontWeight":"normal","titleColor":"#666666","titleX":-53,"titleY":87,"titleAngle":-90,"titleAlign":"center","titleBaseline":"alphabetic"}},
  "color":{"field":"s","type":"nominal","scale":{"domain":["sda","sdb","sdc","sdd","sde","sdf","zd0","zd16","zd32"],"range":["#00CC00","#0066B3","#FF8000","#FFCC00","#330099","#990099","#CCFF00","#FF0000","#808080"]},"legend":null}
 }},
{"data":{"name":"sdc"},"mark":{"type":"line","strokeWidth":1},
 "encoding":{
  "x":{"field":"t","type":"temporal","scale":{"type":"utc","domain":[{"year":2024,"month":9,"date":23,"utc":true},{"year":2025,"month":10,"date":28,"utc":true}],"nice":false},
   "axis":{"orient":"bottom","grid":false,"ticks":false,"domain":false,"title":null,"labelOverlap":false,"labelFlush":false,"labelBound":false,
    "values":[{"year":2024,"month":10,"date":16,"utc":true},{"year":2025,"month":1,"date":16,"utc":true},{"year":2025,"month":4,"date":16,"utc":true},{"year":2025,"month":7,"date":16,"utc":true},{"year":2025,"month":10,"date":16,"utc":true}],
    "labelExpr":"['janvier','février','mars','avril','mai','juin','juillet','août','septembre','octobre','novembre','décembre'][utcmonth(datum.value)] + ' ' + utcyear(datum.value)",
    "labelFont":"DejaVu Sans","labelFontSize":9.5,"labelColor":"#666666","labelPadding":3,"labelAlign":"center","labelBaseline":"top"}},
  "y":{"field":"v","type":"quantitative","scale":{"domain":[0,200],"nice":false},"axis":null},
  "color":{"field":"s","type":"nominal","scale":{"domain":["sda","sdb","sdc","sdd","sde","sdf","zd0","zd16","zd32"],"range":["#00CC00","#0066B3","#FF8000","#FFCC00","#330099","#990099","#CCFF00","#FF0000","#808080"]},"legend":null}
 }},
{"data":{"name":"sdd"},"mark":{"type":"line","strokeWidth":1},
 "encoding":{
  "x":{"field":"t","type":"temporal","scale":{"type":"utc","domain":[{"year":2024,"month":9,"date":23,"utc":true},{"year":2025,"month":10,"date":28,"utc":true}],"nice":false},
   "axis":{"orient":"bottom","grid":false,"ticks":false,"labels":false,"domain":true,"domainColor":"#CFD6F8","domainWidth":1,"title":null,"zindex":1}},
  "y":{"field":"v","type":"quantitative","scale":{"domain":[0,200],"nice":false},
   "axis":{"orient":"left","grid":false,"ticks":false,"labels":false,"domain":true,"domainColor":"#CFD6F8","domainWidth":1,"title":null,"zindex":1}},
  "color":{"field":"s","type":"nominal","scale":{"domain":["sda","sdb","sdc","sdd","sde","sdf","zd0","zd16","zd32"],"range":["#00CC00","#0066B3","#FF8000","#FFCC00","#330099","#990099","#CCFF00","#FF0000","#808080"]},"legend":null}
 }},
{"data":{"name":"sde"},"mark":{"type":"line","strokeWidth":1},
 "encoding":{
  "x":{"field":"t","type":"temporal","scale":{"type":"utc","domain":[{"year":2024,"month":9,"date":23,"utc":true},{"year":2025,"month":10,"date":28,"utc":true}],"nice":false},
   "axis":{"orient":"top","grid":false,"ticks":true,"tickSize":2,"tickColor":"#DE4F4F","tickOpacity":0.6,"labels":false,"domain":false,"title":null,
    "values":[{"year":2024,"month":10,"date":1,"utc":true},{"year":2024,"month":11,"date":1,"utc":true},{"year":2024,"month":12,"date":1,"utc":true},{"year":2025,"month":1,"date":1,"utc":true},{"year":2025,"month":2,"date":1,"utc":true},{"year":2025,"month":3,"date":1,"utc":true},{"year":2025,"month":4,"date":1,"utc":true},{"year":2025,"month":5,"date":1,"utc":true},{"year":2025,"month":6,"date":1,"utc":true},{"year":2025,"month":7,"date":1,"utc":true},{"year":2025,"month":8,"date":1,"utc":true},{"year":2025,"month":9,"date":1,"utc":true},{"year":2025,"month":10,"date":1,"utc":true}]}},
  "y":{"field":"v","type":"quantitative","scale":{"domain":[0,200],"nice":false},
   "axis":{"orient":"right","grid":false,"ticks":true,"tickSize":2,"tickColor":"#DE4F4F","tickOpacity":0.6,"labels":false,"domain":false,"title":null,"values":[20,40,60,80,100,120,140,160,180,200]}},
  "detail":{"field":"g","type":"nominal"},
  "color":{"field":"s","type":"nominal","scale":{"domain":["sda","sdb","sdc","sdd","sde","sdf","zd0","zd16","zd32"],"range":["#00CC00","#0066B3","#FF8000","#FFCC00","#330099","#990099","#CCFF00","#FF0000","#808080"]},"legend":null}
 }},
{"data":{"name":"sdf"},"mark":{"type":"line","strokeWidth":1},
 "encoding":{
  "x":{"field":"t","type":"temporal","scale":{"type":"utc","domain":[{"year":2024,"month":9,"date":23,"utc":true},{"year":2025,"month":10,"date":28,"utc":true}],"nice":false},"axis":null},
  "y":{"field":"v","type":"quantitative","scale":{"domain":[0,200],"nice":false},
   "axis":{"orient":"right","grid":false,"ticks":true,"tickSize":2,"tickColor":"#8F8F8F","tickOpacity":0.6,"labels":false,"domain":false,"title":null,"values":[10,30,50,70,90,110,130,150,170,190]}},
  "color":{"field":"s","type":"nominal","scale":{"domain":["sda","sdb","sdc","sdd","sde","sdf","zd0","zd16","zd32"],"range":["#00CC00","#0066B3","#FF8000","#FFCC00","#330099","#990099","#CCFF00","#FF0000","#808080"]},"legend":null}
 }},
{"data":{"name":"zd0"},"mark":{"type":"line","strokeWidth":1},
 "encoding":{
  "x":{"field":"t","type":"temporal","scale":{"type":"utc","domain":[{"year":2024,"month":9,"date":23,"utc":true},{"year":2025,"month":10,"date":28,"utc":true}],"nice":false},"axis":null},
  "y":{"field":"v","type":"quantitative","scale":{"domain":[0,200],"nice":false},"axis":null},
  "color":{"field":"s","type":"nominal","scale":{"domain":["sda","sdb","sdc","sdd","sde","sdf","zd0","zd16","zd32"],"range":["#00CC00","#0066B3","#FF8000","#FFCC00","#330099","#990099","#CCFF00","#FF0000","#808080"]},"legend":null}
 }},
{"data":{"name":"zd16"},"mark":{"type":"line","strokeWidth":1},
 "encoding":{
  "x":{"field":"t","type":"temporal","scale":{"type":"utc","domain":[{"year":2024,"month":9,"date":23,"utc":true},{"year":2025,"month":10,"date":28,"utc":true}],"nice":false},"axis":null},
  "y":{"field":"v","type":"quantitative","scale":{"domain":[0,200],"nice":false},"axis":null},
  "color":{"field":"s","type":"nominal","scale":{"domain":["sda","sdb","sdc","sdd","sde","sdf","zd0","zd16","zd32"],"range":["#00CC00","#0066B3","#FF8000","#FFCC00","#330099","#990099","#CCFF00","#FF0000","#808080"]},"legend":null}
 }},
{"data":{"name":"zd32"},"mark":{"type":"line","strokeWidth":1},
 "encoding":{
  "x":{"field":"t","type":"temporal","scale":{"type":"utc","domain":[{"year":2024,"month":9,"date":23,"utc":true},{"year":2025,"month":10,"date":28,"utc":true}],"nice":false},"axis":null},
  "y":{"field":"v","type":"quantitative","scale":{"domain":[0,200],"nice":false},"axis":null},
  "color":{"field":"s","type":"nominal","scale":{"domain":["sda","sdb","sdc","sdd","sde","sdf","zd0","zd16","zd32"],"range":["#00CC00","#0066B3","#FF8000","#FFCC00","#330099","#990099","#CCFF00","#FF0000","#808080"]},"legend":null}
 }},
{"data":{"name":"arrows"},"mark":{"type":"point","filled":true,"size":28,"fill":"#CFD6F8","opacity":1,"strokeWidth":0},
 "encoding":{
  "x":{"field":"a","type":"nominal","scale":{"type":"point","domain":["up","right"],"range":[0,404],"padding":0},"axis":null},
  "y":{"field":"a","type":"nominal","scale":{"type":"point","domain":["up","right"],"range":[-4,175],"padding":0},"axis":null},
  "shape":{"field":"a","type":"nominal","scale":{"domain":["up","right"],"range":["triangle-up","triangle-right"]},"legend":null}
 }},
{"data":{"name":"legv"},"mark":{"type":"text","font":"DejaVu Sans Mono","fontSize":10,"align":"right","baseline":"middle","fill":"#666666"},
 "encoding":{
  "x":{"field":"c","type":"nominal","scale":{"type":"point","domain":["Cur","Min","Avg","Max"],"range":[117,416],"padding":0},"axis":null},
  "y":{"field":"s","type":"nominal","scale":{"type":"point","domain":["hdr","sda","sdb","sdc","sdd","sde","sdf","zd0","zd16","zd32"],"range":[200.5,307.8],"padding":0},"axis":null},
  "text":{"field":"txt"}
 }},
{"data":{"name":"legn"},"mark":{"type":"text","font":"DejaVu Sans Mono","fontSize":10,"align":"left","baseline":"middle","fill":"#666666"},
 "encoding":{
  "x":{"field":"c","type":"nominal","scale":{"type":"point","domain":["name"],"range":[-40.3,-40.3],"padding":0},"axis":null},
  "y":{"field":"s","type":"nominal","scale":{"type":"point","domain":["sda","sdb","sdc","sdd","sde","sdf","zd0","zd16","zd32"],"range":[212.4,307.8],"padding":0},"axis":null},
  "text":{"field":"s"}
 }},
{"data":{"name":"legn"},"mark":{"type":"square","size":36,"filled":true,"opacity":1},
 "encoding":{
  "x":{"field":"c","type":"nominal","scale":{"type":"point","domain":["name"],"range":[-50,-50],"padding":0},"axis":null},
  "y":{"field":"s","type":"nominal","scale":{"type":"point","domain":["sda","sdb","sdc","sdd","sde","sdf","zd0","zd16","zd32"],"range":[212.4,307.8],"padding":0},"axis":null},
  "color":{"field":"s","type":"nominal","scale":{"domain":["sda","sdb","sdc","sdd","sde","sdf","zd0","zd16","zd32"],"range":["#00CC00","#0066B3","#FF8000","#FFCC00","#330099","#990099","#CCFF00","#FF0000","#808080"]},"legend":null}
 }},
{"data":{"name":"misc"},"transform":[{"filter":"datum.k == 'upd'"}],
 "mark":{"type":"text","font":"DejaVu Sans Mono","fontSize":10,"align":"right","baseline":"middle","fill":"#666666"},
 "encoding":{
  "x":{"field":"k","type":"nominal","scale":{"type":"point","domain":["upd"],"range":[415,415],"padding":0},"axis":null},
  "y":{"field":"k","type":"nominal","scale":{"type":"point","domain":["upd"],"range":[319,319],"padding":0},"axis":null},
  "text":{"field":"txt"}
 }},
{"data":{"name":"misc"},"transform":[{"filter":"datum.k == 'munin'"}],
 "mark":{"type":"text","font":"DejaVu Sans","fontSize":7.5,"align":"center","baseline":"middle","fill":"#666666","opacity":0.35},
 "encoding":{
  "x":{"field":"k","type":"nominal","scale":{"type":"point","domain":["munin"],"range":[181,181],"padding":0},"axis":null},
  "y":{"field":"k","type":"nominal","scale":{"type":"point","domain":["munin"],"range":[332,332],"padding":0},"axis":null},
  "text":{"field":"txt"}
 }},
{"data":{"name":"misc"},"transform":[{"filter":"datum.k == 'rrd'"}],
 "mark":{"type":"text","font":"DejaVu Sans","fontSize":6,"align":"center","baseline":"middle","angle":90,"fill":"#666666","opacity":0.35},
 "encoding":{
  "x":{"field":"k","type":"nominal","scale":{"type":"point","domain":["rrd"],"range":[422,422],"padding":0},"axis":null},
  "y":{"field":"k","type":"nominal","scale":{"type":"point","domain":["rrd"],"range":[35,35],"padding":0},"axis":null},
  "text":{"field":"txt"}
 }}
],
"resolve": {"scale": {"x": "independent", "y": "independent", "color": "independent", "shape": "independent"}}
}
